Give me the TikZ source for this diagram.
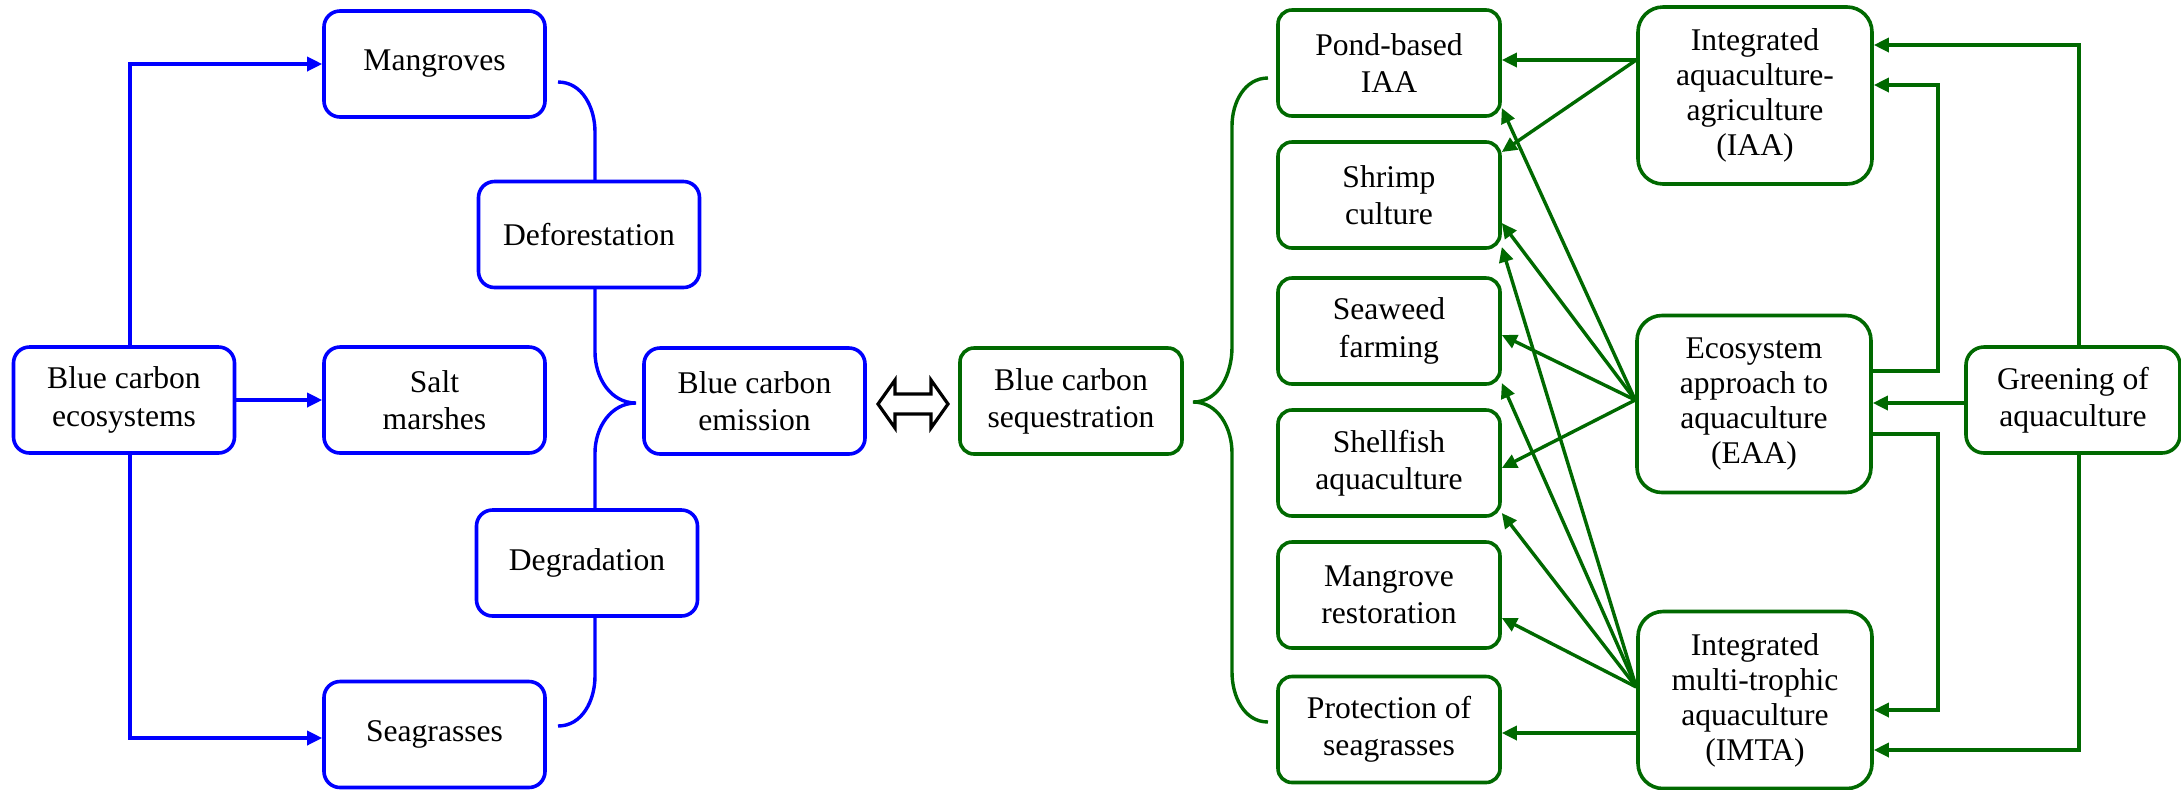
\documentclass[tikz,border=0pt]{standalone}
\usepackage{fontspec}
\setmainfont{Liberation Serif}
\usetikzlibrary{arrows.meta}
\definecolor{bblue}{RGB}{0,0,255}
\definecolor{dgreen}{RGB}{0,105,0}
\begin{document}
\begin{tikzpicture}[x=0.5pt,y=-0.5pt,
  font=\fontsize{15.8}{18.6}\selectfont,
  bbox/.style={draw=bblue, line width=1.8pt, rounded corners=8pt, fill=white, align=center, minimum width=110.5pt, minimum height=53pt, inner sep=0pt},
  gbox/.style={draw=dgreen, line width=1.8pt, rounded corners=7pt, fill=white, align=center, minimum width=111pt, minimum height=53pt, inner sep=0pt},
  bigbox/.style={gbox, rounded corners=12.5pt, minimum width=117pt, minimum height=88.5pt, font=\fontsize{15.8}{17.5}\selectfont},
  barr/.style={draw=bblue, line width=1.7pt, -{Triangle[length=7.5pt,width=7pt]}},
  garr/.style={draw=dgreen, line width=1.7pt, -{Triangle[length=7.5pt,width=7pt]}},
  bline/.style={draw=bblue, line width=1.7pt},
  gline/.style={draw=dgreen, line width=1.7pt},
]
\useasboundingbox (0,0) rectangle (2181,789);

% braces (behind boxes)
\draw[bline] (558,82) to[out=0,in=90] (595,132) -- (595,352) to[out=-90,in=180] (636,403)
  to[out=180,in=90] (595,453) -- (595,676) to[out=-90,in=0] (558,726);
\draw[gline] (1268,78) to[out=180,in=90] (1232,126) -- (1232,347) to[out=-90,in=0] (1193,402)
  to[out=0,in=90] (1232,453) -- (1232,672) to[out=-90,in=180] (1268,722);

% blue nodes
\node[bbox] (bce) at (124,400) {Blue carbon\\ecosystems};
\node[bbox] (mang) at (434.5,64) {Mangroves};
\node[bbox] (salt) at (434.5,400) {Salt\\marshes};
\node[bbox] (seag) at (434.5,734.5) {Seagrasses};
\node[bbox] (defo) at (589,234.5) {Deforestation};
\node[bbox] (degr) at (587,563) {Degradation};
\node[bbox] (emis) at (754.5,401) {Blue carbon\\emission};

% green nodes
\node[gbox] (seq) at (1071,401) {Blue carbon\\sequestration};
\node[gbox] (pond) at (1389,63) {Pond-based\\IAA};
\node[gbox] (shrimp) at (1389,195) {Shrimp\\culture};
\node[gbox] (seaweed) at (1389,331) {Seaweed\\farming};
\node[gbox] (shell) at (1389,463) {Shellfish\\aquaculture};
\node[gbox] (mres) at (1389,595) {Mangrove\\restoration};
\node[gbox] (prot) at (1389,729.5) {Protection of\\seagrasses};
\node[bigbox] (iaa) at (1755,95.5) {Integrated\\aquaculture-\\agriculture\\(IAA)};
\node[bigbox] (eaa) at (1754,404) {Ecosystem\\approach to\\aquaculture\\(EAA)};
\node[bigbox] (imta) at (1755,700) {Integrated\\multi-trophic\\aquaculture\\(IMTA)};
\node[gbox, rounded corners=9pt, minimum width=107pt] (green) at (2073,400) {Greening of\\aquaculture};

% double arrow between emission and sequestration
\draw[line width=1.6pt, fill=white, line join=miter] (878,404) -- (895,380) -- (895,394) -- (931,394)
  -- (931,380) -- (948,404) -- (931,428) -- (931,414) -- (895,414) -- (895,428) -- cycle;

% blue connectors
\draw[barr] ([xshift=3pt]bce.north) |- (mang.west);
\draw[barr] (bce.east) -- (salt.west);
\draw[barr] ([xshift=3pt]bce.south) |- ([yshift=-1.75pt]seag.west);

% green connectors
\coordinate (iaaL) at (iaa.west |- 0,60);
\coordinate (eaaL) at (eaa.west |- 0,400);
\coordinate (imtaL) at (imta.west |- 0,687);
\draw[garr] (iaaL) -- (iaaL -| pond.east);
\draw[garr] (iaaL) -- (shrimp.east |- 0,152);
\draw[garr] (eaaL) -- (pond.east |- 0,108);
\draw[garr] (eaaL) -- (shrimp.east |- 0,223);
\draw[garr] (eaaL) -- (seaweed.east |- 0,335);
\draw[garr] (eaaL) -- (shell.east |- 0,468);
\draw[garr] (imtaL) -- (shrimp.east |- 0,247);
\draw[garr] (imtaL) -- (seaweed.east |- 0,383);
\draw[garr] (imtaL) -- (shell.east |- 0,513);
\draw[garr] (imtaL) -- (mres.east |- 0,618);
\draw[garr] (imta.west |- 0,733) -- (prot.east |- 0,733);

\draw[garr] ([xshift=3pt]green.north) |- (iaa.east |- 0,45);
\draw[garr] (eaa.east |- 0,371) -- (1938,371) -- (1938,85) -- (iaa.east |- 0,85);
\draw[garr] (green.west |- 0,403) -- (eaa.east |- 0,403);
\draw[garr] (eaa.east |- 0,434) -- (1938,434) -- (1938,710) -- (imta.east |- 0,710);
\draw[garr] ([xshift=3pt]green.south) |- (imta.east |- 0,750);
\end{tikzpicture}
\end{document}
